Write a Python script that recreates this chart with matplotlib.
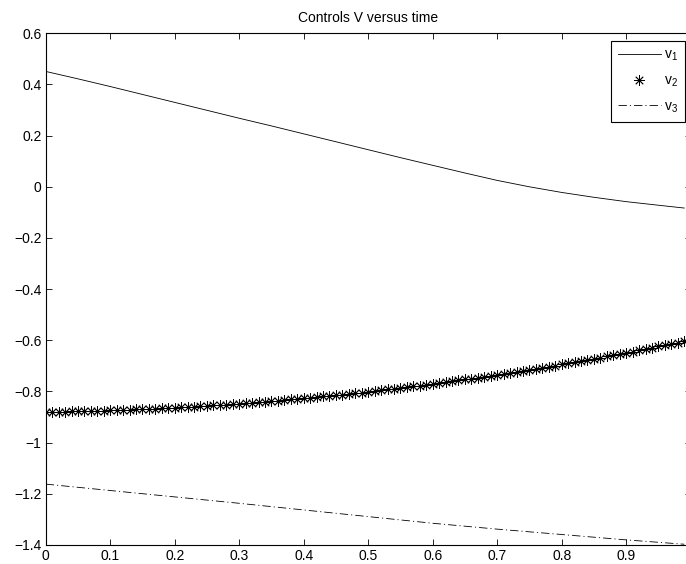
import numpy as np
import matplotlib
matplotlib.use("Agg")
import matplotlib.pyplot as plt

plt.rcParams['font.family'] = ['Liberation Sans', 'DejaVu Sans']
plt.rcParams['mathtext.fontset'] = 'custom'
plt.rcParams['mathtext.rm'] = 'Liberation Sans'
plt.rcParams['lines.scale_dashes'] = False

# v1 read at 0.05 steps (plus the last sample)
t1 = [0.0, 0.05, 0.1, 0.15, 0.2, 0.25, 0.3, 0.35, 0.4, 0.45, 0.5,
      0.55, 0.6, 0.65, 0.7, 0.75, 0.8, 0.85, 0.9, 0.95, 0.99]
v1 = [0.451, 0.422, 0.392, 0.361, 0.330, 0.299, 0.268, 0.238, 0.207, 0.176, 0.145,
      0.114, 0.084, 0.054, 0.025, 0.000, -0.022, -0.041, -0.058, -0.072, -0.083]

# v3 read at 0.1 steps
t3 = [0.0, 0.1, 0.2, 0.3, 0.4, 0.5, 0.6, 0.7, 0.8, 0.9, 0.99]
v3 = [-1.162, -1.187, -1.212, -1.237, -1.263, -1.289, -1.315, -1.338, -1.359, -1.380, -1.397]

# v2 is drawn with one marker per sample, t = 0:0.01:0.99
t2 = [i / 100 for i in range(100)]
v2 = [-0.880, -0.880, -0.879, -0.879, -0.878, -0.878, -0.877, -0.876, -0.876, -0.875,
      -0.874, -0.873, -0.872, -0.871, -0.870, -0.869, -0.868, -0.867, -0.866, -0.865,
      -0.863, -0.862, -0.860, -0.859, -0.857, -0.856, -0.854, -0.853, -0.851, -0.849,
      -0.847, -0.846, -0.844, -0.842, -0.840, -0.838, -0.836, -0.833, -0.831, -0.829,
      -0.827, -0.824, -0.822, -0.819, -0.817, -0.814, -0.812, -0.809, -0.807, -0.804,
      -0.801, -0.798, -0.795, -0.792, -0.789, -0.786, -0.783, -0.780, -0.777, -0.774,
      -0.770, -0.767, -0.764, -0.760, -0.757, -0.753, -0.750, -0.746, -0.742, -0.739,
      -0.735, -0.731, -0.727, -0.723, -0.719, -0.715, -0.711, -0.707, -0.703, -0.699,
      -0.694, -0.690, -0.686, -0.681, -0.677, -0.672, -0.668, -0.663, -0.658, -0.654,
      -0.649, -0.644, -0.639, -0.634, -0.629, -0.624, -0.619, -0.614, -0.609, -0.604]

xticks = [0, 0.1, 0.2, 0.3, 0.4, 0.5, 0.6, 0.7, 0.8, 0.9]
yticks = [0.6, 0.4, 0.2, 0, -0.2, -0.4, -0.6, -0.8, -1, -1.2, -1.4]

W, H = 686, 564
fig = plt.figure(figsize=(W / 100, H / 100), dpi=100)
ax = fig.add_axes([45.7 / W, 1 - 545 / H, (690.7 - 45.7) / W, (545 - 33.3) / H])

ax.plot(t1, v1, color='k', lw=0.6, label=r'$\mathregular{v_1}$')
ax.plot(t2, v2, linestyle='none', marker=(8, 2, 0), markersize=7.5,
        markeredgewidth=0.6, color='k', label=r'$\mathregular{v_2}$')
ax.plot(t3, v3, color='k', lw=0.6, dashes=(6, 2.2, 0.8, 2.2),
        label=r'$\mathregular{v_3}$')

ax.set_xlim(0, 1)
ax.set_ylim(-1.4, 0.6)
ax.set_xticks(xticks)
ax.set_xticklabels([('%g' % v) for v in xticks])
ax.set_yticks(yticks)
ax.set_yticklabels([('%g' % v).replace('-', '\u2212') for v in yticks])
ax.tick_params(direction='in', length=4, width=0.6, top=True, right=True,
               labelsize=10, pad=3)
for s in ax.spines.values():
    s.set_linewidth(0.8)

ax.set_title('Controls V versus time', fontsize=10, pad=8)

leg = ax.legend(loc='upper right', bbox_to_anchor=(685 / W, 1 - 40.7 / H),
                bbox_transform=fig.transFigure, borderaxespad=0, fontsize=10,
                handlelength=3.1, handletextpad=0.25, labelspacing=0.75,
                borderpad=0.5, fancybox=False, framealpha=1, edgecolor='k')
leg.get_frame().set_linewidth(0.8)

fig.savefig('out.png', dpi=100)
